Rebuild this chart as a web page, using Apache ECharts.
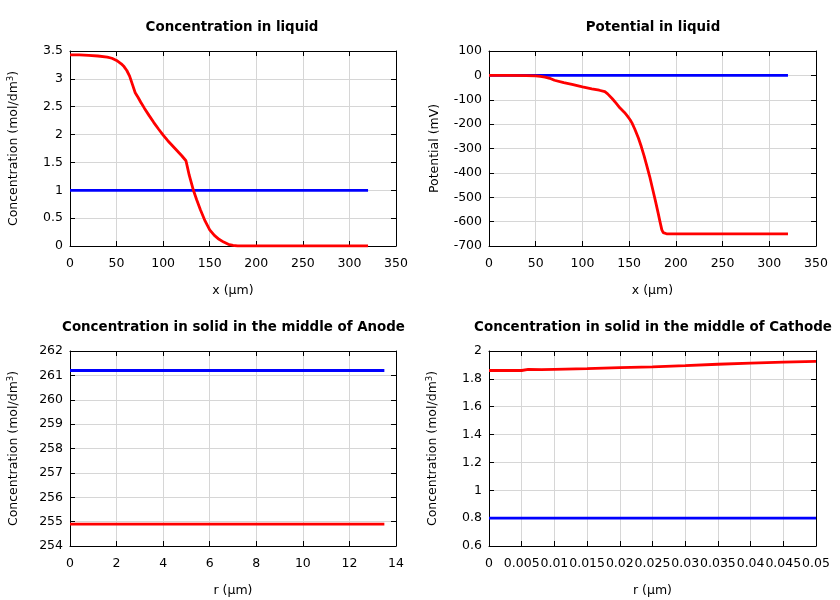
<!DOCTYPE html>
<html><head><meta charset="utf-8">
<script src="https://cdn.jsdelivr.net/npm/echarts@6/dist/echarts.min.js"></script>
<style>html,body{margin:0;padding:0;background:#fff}#c{width:840px;height:600px}</style>
</head><body><div id="c"></div>
<script>
// ---- Data ----
const titles = ['Concentration in liquid', 'Potential in liquid',
  'Concentration in solid in the middle of Anode', 'Concentration in solid in the middle of Cathode'];
const xNames = ['x (μm)', 'x (μm)', 'r (μm)', 'r (μm)'];
const yNames = ['Concentration (mol/dm{sup|3})', 'Potential (mV)', 'Concentration (mol/dm{sup|3})', 'Concentration (mol/dm{sup|3})'];
const xRanges = [[0, 350, 50], [0, 350, 50], [0, 14, 2], [0, 0.05, 0.005]];
const yRanges = [[0, 3.5, 0.5], [-700, 100, 100], [254, 262, 1], [0.6, 2, 0.2]];

// Panel 1: concentration in liquid
const p1RedX = [0,10,20,30,40,45,50,55,58,61,64,67,70,73,76,80,85,90,95,100,105,110,115,120,124.5,126,128,130,132.5,136,140,145,150,155,160,165,170,175,180,200,250,320];
const p1RedY = [3.43,3.43,3.42,3.41,3.39,3.37,3.33,3.27,3.22,3.15,3.05,2.9,2.75,2.67,2.58,2.47,2.34,2.215,2.1,1.99,1.89,1.8,1.71,1.62,1.53,1.42,1.27,1.15,1.0,0.83,0.65,0.45,0.29,0.19,0.12,0.07,0.03,0.01,0,0,0,0];
const p1BlueX = [0, 320];
const p1BlueY = [1, 1];

// Panel 2: potential in liquid
const p2RedX = [0,20,40,50,55,60,65,70,80,90,100,110,118,124,127,132,136,140,145,148,151,153,156,160,163,166,169,172,175,178,181,183,185,186.5,188,190,200,250,320];
const p2RedY = [0,0,-1,-2,-4,-7,-12,-20,-30,-38,-47,-55,-61,-67,-76,-96,-114,-133,-152,-166,-182,-195,-220,-258,-292,-330,-372,-415,-464,-513,-564,-600,-634,-645,-649,-650,-650,-650,-650];
const p2BlueX = [0, 320];
const p2BlueY = [0, 0];

// Panel 3: anode solid
const p3BlueX = [0, 13.5];
const p3BlueY = [261.2, 261.2];
const p3RedX = [0, 13.5];
const p3RedY = [254.9, 254.9];

// Panel 4: cathode solid
const p4RedX = [0,0.005,0.006,0.008,0.01,0.015,0.02,0.025,0.03,0.035,0.04,0.045,0.05];
const p4RedY = [1.86,1.86,1.868,1.866,1.868,1.873,1.88,1.886,1.895,1.905,1.913,1.92,1.926];
const p4BlueX = [0, 0.05];
const p4BlueY = [0.8, 0.8];

const panels = [
  [[p1RedX, p1RedY], [p1BlueX, p1BlueY]],
  [[p2RedX, p2RedY], [p2BlueX, p2BlueY]],
  [[p3RedX, p3RedY], [p3BlueX, p3BlueY]],
  [[p4RedX, p4RedY], [p4BlueX, p4BlueY]]
];
const colors = ['#ff0000', '#0000ff'];

// ---- Layout ----
const FONT = 'DejaVu Sans';
const LBL = 12.5;
const grids = [
  {left: 70, top: 51, width: 326, height: 195},
  {left: 489, top: 51, width: 327, height: 195},
  {left: 70, top: 351, width: 326, height: 195},
  {left: 489, top: 351, width: 327, height: 195}
];
const titleCenters = [[227, 16], [648, 16], [228.5, 316], [648, 316]];

function fmtX(i) {
  return function (v) {
    if (i === 3) return v === 0 ? '0' : String(parseFloat(v.toFixed(3)));
    return String(parseFloat(v.toFixed(6)));
  };
}

const option = {
  animation: false,
  backgroundColor: '#fff',
  textStyle: {fontFamily: FONT},
  title: titles.map((t, i) => ({
    text: t, left: titleCenters[i][0], top: titleCenters[i][1], textAlign: 'center',
    textStyle: {fontFamily: FONT, fontSize: 13.4, fontWeight: 'bold', color: '#000'}
  })),
  grid: grids.map(g => Object.assign({show: false, containLabel: false}, g)),
  xAxis: [], yAxis: [], series: []
};

const lineStyle = {color: '#000', width: 1};
const gridLine = {show: true, lineStyle: {color: '#d6d6d6', width: 1}};

for (let i = 0; i < 4; i++) {
  const [xmin, xmax, xint] = xRanges[i];
  const [ymin, ymax, yint] = yRanges[i];
  option.xAxis.push({
    type: 'value', gridIndex: i, position: 'bottom', min: xmin, max: xmax, interval: xint,
    name: xNames[i], nameLocation: 'middle', nameGap: 38,
    nameTextStyle: {fontFamily: FONT, fontSize: LBL, color: '#000'},
    axisLine: {show: true, onZero: false, lineStyle},
    axisTick: {show: true, inside: true, length: 5, lineStyle},
    axisLabel: {show: true, interval: 0, fontFamily: FONT, fontSize: LBL, color: '#000', margin: 11,
      showMinLabel: true, showMaxLabel: true, hideOverlap: false, formatter: fmtX(i)},
    splitLine: gridLine
  });
  option.xAxis.push({
    type: 'value', gridIndex: i, position: 'top', min: xmin, max: xmax, interval: xint,
    axisLine: {show: true, onZero: false, lineStyle},
    axisTick: {show: true, inside: true, length: 5, lineStyle},
    axisLabel: {show: false}, splitLine: {show: false}
  });
  option.yAxis.push({
    type: 'value', gridIndex: i, position: 'left', min: ymin, max: ymax, interval: yint,
    name: yNames[i], nameLocation: 'middle', nameGap: 48, nameRotate: 90,
    nameTextStyle: {fontFamily: FONT, fontSize: LBL, color: '#000',
      rich: {sup: {fontFamily: FONT, fontSize: 8.5, color: '#000', padding: [0, 0, 7, 0]}}},
    axisLine: {show: true, onZero: false, lineStyle},
    axisTick: {show: true, inside: true, length: 5, lineStyle},
    axisLabel: {show: true, fontFamily: FONT, fontSize: LBL, color: '#000', margin: 7,
      showMinLabel: true, showMaxLabel: true,
      formatter: v => String(parseFloat(v.toFixed(6)))},
    splitLine: gridLine
  });
  option.yAxis.push({
    type: 'value', gridIndex: i, position: 'right', min: ymin, max: ymax, interval: yint,
    axisLine: {show: true, onZero: false, lineStyle},
    axisTick: {show: true, inside: true, length: 5, lineStyle},
    axisLabel: {show: false}, splitLine: {show: false}
  });
  panels[i].forEach((s, k) => {
    option.series.push({
      type: 'line', xAxisIndex: i * 2, yAxisIndex: i * 2, symbol: 'none', smooth: false,
      lineStyle: {color: colors[k], width: 2.8}, itemStyle: {color: colors[k]},
      data: s[0].map((x, j) => [x, s[1][j]]), z: k === 0 ? 3 : 2
    });
  });
}

const chart = echarts.init(document.getElementById('c'), null, {renderer: 'canvas'});
chart.setOption(option);
</script>
</body></html>
